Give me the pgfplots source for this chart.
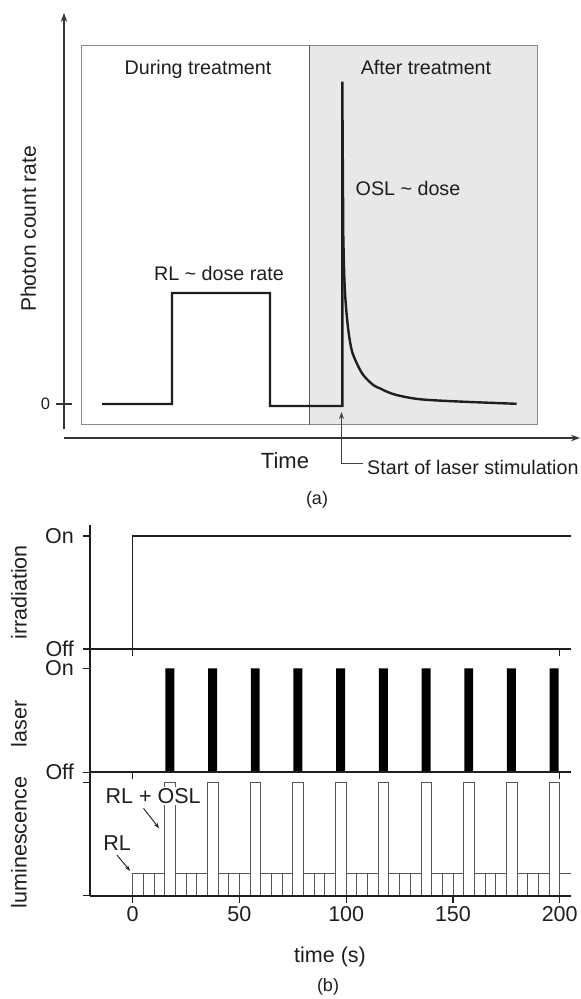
\documentclass[border=0pt]{standalone}
\usepackage{fontspec}
\setmainfont{Liberation Sans}
\usepackage{pgfplots}
\usepackage{pgfplotstable}
\pgfplotsset{compat=1.18}
\usetikzlibrary{arrows.meta}

\definecolor{aftergray}{HTML}{E8E8E8}
\definecolor{framegray}{HTML}{8A8A8A}
\definecolor{ink}{HTML}{1E1E1E}

\newcommand\fa{\fontsize{19.7}{23}\selectfont}
\newcommand\fb{\fontsize{21.5}{25}\selectfont}

% (a) schematic photon count rate (time in arbitrary units, rate relative to the RL level)
% RL during treatment, then the rise at the start of stimulation
\pgfplotstableread{
t      rate
7.4    0
21.4   0
21.4   1
41.0   1
41.0   -0.018
55.46  -0.018
55.46  2.904
55.66  1.507
}\signal

% OSL decay after the stimulation starts
\pgfplotstableread{
t      rate
55.66  1.507
55.86  1.147
56.14  0.910
56.66  0.667
57.34  0.486
58.34  0.369
59.66  0.261
61.66  0.171
63.0   0.141
64.34  0.112
66.34  0.081
69.66  0.051
73.0   0.036
79.66  0.021
86.34  0.009
90.34  0.002
}\decay

% (b) laser pulses (on/off switching times, s)
\pgfplotstableread{
t      on
15.3   1
19.5   0
35.3   1
39.5   0
55.3   1
59.5   0
75.3   1
79.5   0
95.3   1
99.5   0
115.3  1
119.5  0
135.3  1
139.5  0
155.3  1
159.5  0
175.3  1
179.5  0
195.3  1
199.5  0
}\laser

% (b) luminescence in 5 s channels (left edge of each channel)
\pgfplotstableread{
t    lum
0    0.2
5    0.2
10   0.2
15   1
20   0.2
25   0.2
30   0.2
35   1
40   0.2
45   0.2
50   0.2
55   1
60   0.2
65   0.2
70   0.2
75   1
80   0.2
85   0.2
90   0.2
95   1
100  0.2
105  0.2
110  0.2
115  1
120  0.2
125  0.2
130  0.2
135  1
140  0.2
145  0.2
150  0.2
155  1
160  0.2
165  0.2
170  0.2
175  1
180  0.2
185  0.2
190  0.2
195  1
200  0.2
}\lum

\pgfplotsset{
  /pgf/number format/assume math mode=true,
  panel/.style={
    scale only axis, width=481pt,
    xmin=-20, xmax=205.3,
    axis x line*=bottom, axis y line*=left,
    axis line style={line width=1.9pt, draw=ink},
    tick style={line width=1.3pt, draw=ink},
    tick align=outside, major tick length=7pt,
    ticklabel style={font=\fb, text=ink},
    yticklabel style={inner sep=0.5pt, xshift=-8.5pt},
    axis on top,
  },
}

\begin{document}
\begin{tikzpicture}
\useasboundingbox (0,0) rectangle (581pt,-999pt);

% ---------- (a) ----------
\begin{axis}[
  at={(64pt,-438pt)}, anchor=south west,
  scale only axis, width=516pt, height=425pt,
  xmin=-0.2, xmax=103, ymin=-0.306, ymax=3.523,
  axis lines*=left,
  axis line style={line width=1.3pt, draw=ink!90, -{Stealth[length=9pt,width=6.5pt]}},
  y axis line style={shorten <=9pt},
  xtick=\empty, ytick={0},
  tick align=center, major tick length=16.7pt,
  tick style={line width=1.3pt, draw=ink!90},
  yticklabel style={font=\fontsize{16.5}{19}\selectfont, text=ink, xshift=-2pt},
  every axis x label/.style={at={(axis description cs:0.4283,0)}, anchor=base, yshift=-30pt, font=\fontsize{22}{26}\selectfont, text=ink},
  every axis y label/.style={at={(axis description cs:-0.0543,0.492)}, anchor=base, rotate=90, font=\fontsize{21}{25}\selectfont, text=ink},
  xlabel={Time}, ylabel={Photon count rate},
  clip=false,
]
\fill[aftergray] (axis cs:48.9,-0.185) rectangle (axis cs:94.4,3.234);
\draw[framegray, line width=1pt] (axis cs:3.34,-0.185) rectangle (axis cs:94.4,3.234);
\draw[ink!75, line width=1pt] (axis cs:48.9,-0.185) -- (axis cs:48.9,3.234);
\addplot[ink, line width=2.4pt] table[x=t, y=rate] {\signal};
\addplot[ink, line width=2.4pt, smooth, tension=0.55] table[x=t, y=rate] {\decay};
\node[anchor=base, font=\fa, text=ink] at (axis cs:26.6,2.973) {During treatment};
\node[anchor=base, font=\fa, text=ink] at (axis cs:72.2,2.973) {After treatment};
\node[anchor=base, font=\fa, text=ink] at (axis cs:68.6,1.883) {OSL \textasciitilde{} dose};
\node[anchor=base, font=\fa, text=ink] at (axis cs:30.8,1.117) {RL \textasciitilde{} dose rate};
\draw[ink!85, line width=1pt, {Stealth[length=7pt,width=5pt]}-] (axis cs:55.3,-0.072) -- (axis cs:55.3,-0.532) -- (axis cs:59.6,-0.532);
\node[anchor=base west, inner sep=0pt, font=\fa, text=ink] at (axis cs:60.4,-0.631) {Start of laser stimulation};
\end{axis}

\node[anchor=base, font=\fontsize{18}{21}\selectfont, text=ink] at (317pt,-504.2pt) {(a)};

% ---------- (b) irradiation ----------
\begin{axis}[panel,
  at={(90pt,-649pt)}, anchor=south west, height=124pt,
  ymin=0, ymax=1.097,
  xtick={0,200}, xticklabels={},
  ytick={0,1}, yticklabels={Off,On},
  every axis y label/.style={at={(axis description cs:-0.132,0.456)}, anchor=base, rotate=90, font=\fb, text=ink},
  ylabel={irradiation},
]
\addplot[ink, line width=1.2pt] coordinates {(0,0) (0,1) (205.3,1)};
\end{axis}

% ---------- (b) laser ----------
\begin{axis}[panel,
  at={(90pt,-772.3pt)}, anchor=south west, height=123.3pt,
  ymin=0, ymax=1.186,
  xtick={0,200}, xticklabels={},
  ytick={0,1}, yticklabels={Off,On},
  every axis y label/.style={at={(axis description cs:-0.132,0.394)}, anchor=base, rotate=90, font=\fb, text=ink},
  ylabel={laser},
]
\addplot[const plot, fill=black, draw=none] table[x=t, y=on] {\laser} \closedcycle;
\end{axis}

% ---------- (b) luminescence ----------
\begin{axis}[panel,
  at={(90pt,-895.7pt)}, anchor=south west, height=123.4pt,
  ymin=0, ymax=1.088,
  xtick={0,50,...,200},
  ytick={0,1}, yticklabels={},
  every axis y label/.style={at={(axis description cs:-0.132,0.431)}, anchor=base, rotate=90, font=\fb, text=ink},
  every axis x label/.style={at={(axis description cs:0.499,0)}, anchor=base, yshift=-66.5pt, font=\fb, text=ink},
  ylabel={luminescence}, xlabel={time (s)},
  clip=false,
]
\addplot[ybar interval, fill=white, draw=ink!75, line width=0.8pt] table[x=t, y=lum] {\lum};
\addplot[ink!75, line width=0.8pt] coordinates {(200,0.2) (205.3,0.2)};
\node[anchor=base, fill=white, inner sep=1.5pt, font=\fb, text=ink] at (axis cs:9.6,0.811) {RL + OSL};
\node[anchor=base, font=\fb, text=ink] at (axis cs:-7.26,0.397) {RL};
\draw[ink, line width=0.9pt, -{Stealth[length=6pt,width=4pt]}] (axis cs:5.06,0.771) -- (axis cs:12.4,0.594);
\draw[ink, line width=0.9pt, -{Stealth[length=6pt,width=4pt]}] (axis cs:-7.4,0.359) -- (axis cs:-1.17,0.218);
\end{axis}

\node[anchor=base, font=\fontsize{18}{21}\selectfont, text=ink] at (328pt,-991.2pt) {(b)};
\end{tikzpicture}
\end{document}
